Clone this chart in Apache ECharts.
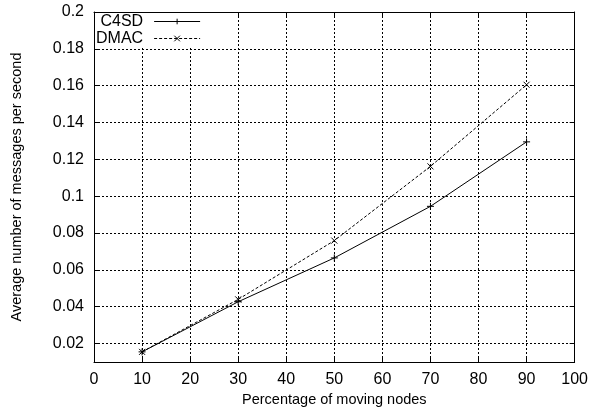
<!DOCTYPE html>
<html>
<head>
<meta charset="utf-8">
<script src="https://cdn.jsdelivr.net/npm/echarts@6/dist/echarts.min.js"></script>
<style>
  html, body { margin: 0; padding: 0; background: #fff; }
  #main { width: 591px; height: 417px; }
</style>
</head>
<body>
<div id="main"></div>
<script>
// x values: percentage of moving nodes
var xValues = [10, 30, 50, 70, 90];
// average number of messages per second
var c4sdValues = [0.0155, 0.0427, 0.0665, 0.0945, 0.1295];
var dmacValues = [0.0155, 0.0440, 0.0759, 0.1162, 0.1605];
// y tick labels
var yTicks = [0.02, 0.04, 0.06, 0.08, 0.1, 0.12, 0.14, 0.16, 0.18, 0.2];

var plusPath = 'path://M0,5L10,5M5,0L5,10';
var crossPath = 'path://M0,0L10,10M10,0L0,10';

var font = 'Liberation Sans, Arial, sans-serif';

function pairs(xs, ys) {
    return xs.map(function (x, i) { return [x, ys[i]]; });
}

var myChart = echarts.init(document.getElementById('main'));

var gridLine = { show: true, lineStyle: { color: '#000', width: 1, type: [2, 2] } };
var frameLine = { show: true, onZero: false, lineStyle: { color: '#000', width: 1 } };
var tickStyle = { show: true, inside: true, length: 5, lineStyle: { color: '#000' } };

myChart.setOption({
    animation: false,
    backgroundColor: '#fff',
    textStyle: { fontFamily: font, color: '#000' },
    grid: { left: 94, right: 16, top: 12, bottom: 55 },
    legend: {
        orient: 'vertical',
        left: 95,
        top: 13,
        align: 'right',
        itemWidth: 46,
        itemHeight: 7,
        itemGap: 0,
        padding: [0, 8, 1, 1],
        backgroundColor: '#fff',
        lineStyle: { width: 1 },
        itemStyle: { borderWidth: 1 },
        textStyle: { fontFamily: font, fontSize: 16, lineHeight: 17, color: '#000', padding: [0, 6, 0, 0] },
        data: ['C4SD', 'DMAC']
    },
    xAxis: [{
        type: 'value',
        min: 0, max: 100, interval: 10,
        position: 'bottom',
        name: 'Percentage of moving nodes',
        nameLocation: 'middle',
        nameGap: 29,
        nameTextStyle: { fontFamily: font, fontSize: 14.5, color: '#000' },
        axisLine: frameLine,
        axisTick: tickStyle,
        axisLabel: { fontFamily: font, fontSize: 16, color: '#000', margin: 10 },
        splitLine: gridLine
    }, {
        type: 'value',
        min: 0, max: 100, interval: 10,
        position: 'top',
        axisLine: frameLine,
        axisTick: tickStyle,
        axisLabel: { show: false },
        splitLine: { show: false }
    }],
    yAxis: [{
        type: 'value',
        min: 0.01, max: 0.2,
        position: 'left',
        name: 'Average number of messages per second',
        nameLocation: 'middle',
        nameGap: 70,
        nameTextStyle: { fontFamily: font, fontSize: 14.5, color: '#000' },
        axisLine: frameLine,
        axisTick: Object.assign({ customValues: yTicks }, tickStyle),
        axisLabel: { fontFamily: font, fontSize: 16, color: '#000', margin: 10, customValues: yTicks },
        splitLine: gridLine
    }, {
        type: 'value',
        min: 0.01, max: 0.2,
        position: 'right',
        axisLine: frameLine,
        axisTick: Object.assign({ customValues: yTicks }, tickStyle),
        axisLabel: { show: false, customValues: yTicks },
        splitLine: { show: false }
    }],
    series: [{
        name: 'C4SD',
        type: 'line',
        data: pairs(xValues, c4sdValues),
        symbol: plusPath,
        symbolSize: 7,
        itemStyle: { color: '#000', borderColor: '#000', borderWidth: 1 },
        lineStyle: { color: '#000', width: 1, type: 'solid' },
        z: 5
    }, {
        name: 'DMAC',
        type: 'line',
        data: pairs(xValues, dmacValues),
        symbol: crossPath,
        symbolSize: 6,
        itemStyle: { color: '#000', borderColor: '#000', borderWidth: 1 },
        lineStyle: { color: '#000', width: 1, type: [3, 2] },
        z: 5
    }]
});
</script>
</body>
</html>
